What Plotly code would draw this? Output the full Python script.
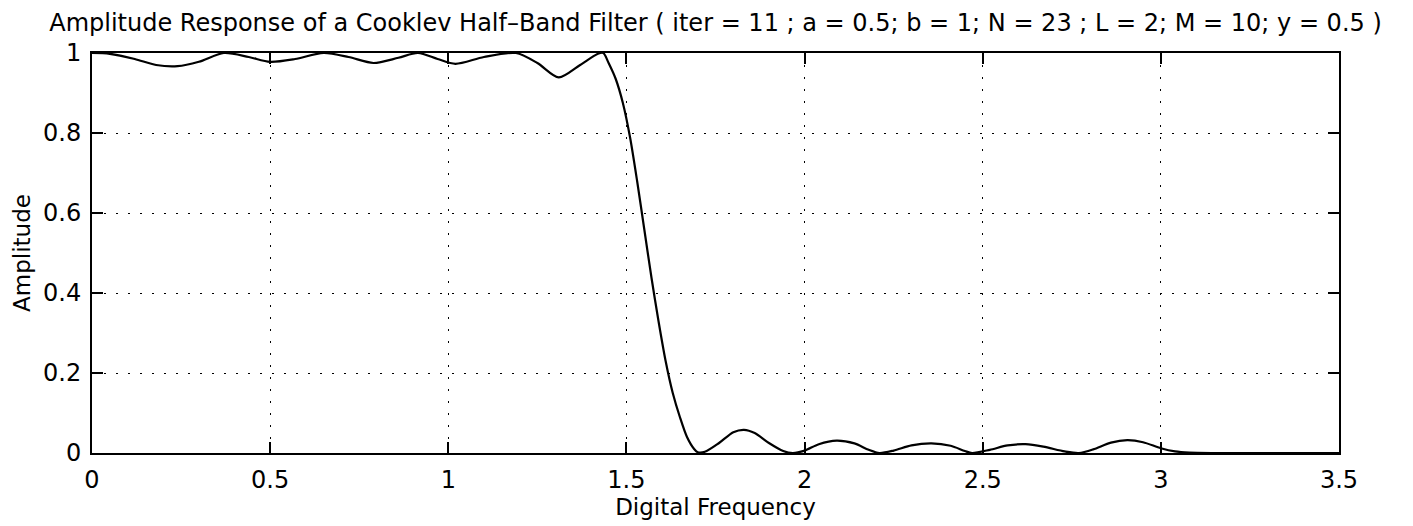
import plotly.graph_objects as go

# Digital frequency (rad) and amplitude
freq = [0.00, 0.05, 0.12, 0.18, 0.24, 0.30, 0.37, 0.44, 0.50, 0.57, 0.65, 0.72, 0.79, 0.86,
        0.915, 0.97, 1.02, 1.10, 1.19, 1.25, 1.31, 1.37, 1.42, 1.435, 1.45, 1.47, 1.49, 1.51,
        1.53, 1.55, 1.57, 1.59, 1.61, 1.63, 1.65, 1.67, 1.69, 1.70, 1.72, 1.76, 1.80, 1.83,
        1.86, 1.90, 1.94, 1.967, 2.00, 2.04, 2.09, 2.14, 2.18, 2.21, 2.25, 2.30, 2.356, 2.41,
        2.45, 2.47, 2.52, 2.57, 2.62, 2.67, 2.73, 2.77, 2.81, 2.86, 2.906, 2.95, 3.00, 3.04,
        3.08, 3.15, 3.30, 3.50]
amp = [1.000, 0.998, 0.985, 0.970, 0.967, 0.978, 1.000, 0.990, 0.978, 0.985, 1.000, 0.990,
       0.975, 0.988, 1.000, 0.985, 0.973, 0.990, 1.000, 0.975, 0.939, 0.970, 0.998, 1.000,
       0.975, 0.935, 0.875, 0.790, 0.680, 0.560, 0.440, 0.330, 0.230, 0.150, 0.090, 0.040,
       0.010, 0.002, 0.003, 0.025, 0.052, 0.058, 0.050, 0.025, 0.005, 0.000, 0.006, 0.022,
       0.031, 0.024, 0.008, 0.000, 0.006, 0.019, 0.024, 0.018, 0.005, 0.000, 0.008, 0.019,
       0.022, 0.016, 0.004, 0.000, 0.009, 0.026, 0.032, 0.027, 0.012, 0.004, 0.001, 0.000,
       0.000, 0.000]

x_ticks = [0, 0.5, 1, 1.5, 2, 2.5, 3, 3.5]
x_tick_labels = ["0", "0.5", "1", "1.5", "2", "2.5", "3", "3.5"]
y_ticks = [0, 0.2, 0.4, 0.6, 0.8, 1]
y_tick_labels = ["0", "0.2", "0.4", "0.6", "0.8", "1"]

title_text = ("Amplitude Response of a Cooklev Half\u2013Band Filter ( iter = 11 ; a = 0.5; b = 1; "
              "N = 23 ; L = 2; M = 10; y = 0.5 )")

FONT = "DejaVu Sans, Liberation Sans, Arial, sans-serif"

fig = go.Figure()
fig.add_trace(go.Scatter(x=freq, y=amp, mode="lines",
                         line=dict(color="black", width=2.2, shape="spline", smoothing=0.8),
                         showlegend=False, hoverinfo="skip"))

axis_common = dict(
    showline=True, linecolor="black", linewidth=2, mirror="ticks",
    ticks="inside", ticklen=11, tickwidth=1.5, tickcolor="black",
    showgrid=True, gridcolor="black", gridwidth=1, griddash="2px,10px",
    zeroline=False,
    tickfont=dict(family=FONT, size=24, color="black"),
)

fig.update_xaxes(range=[0, 3.5], tickvals=x_ticks, ticktext=x_tick_labels,
                 title=dict(text="Digital Frequency", font=dict(family=FONT, size=23, color="black"),
                            standoff=0),
                 ticklabelstandoff=4, **axis_common)
fig.update_yaxes(range=[0, 1], tickvals=y_ticks, ticktext=y_tick_labels,
                 title=dict(text="Amplitude", font=dict(family=FONT, size=23, color="black"),
                            standoff=6),
                 ticklabelstandoff=4, **axis_common)

fig.update_layout(
    width=1413, height=526,
    margin=dict(l=92, r=74, t=53, b=73),
    paper_bgcolor="white", plot_bgcolor="white",
    title=dict(text=title_text, font=dict(family=FONT, size=24, color="black"),
               x=0.5, xanchor="center", xref="paper", y=1 - 23 / 526, yanchor="middle",
               yref="container"),
)

fig.write_html("out.html")
